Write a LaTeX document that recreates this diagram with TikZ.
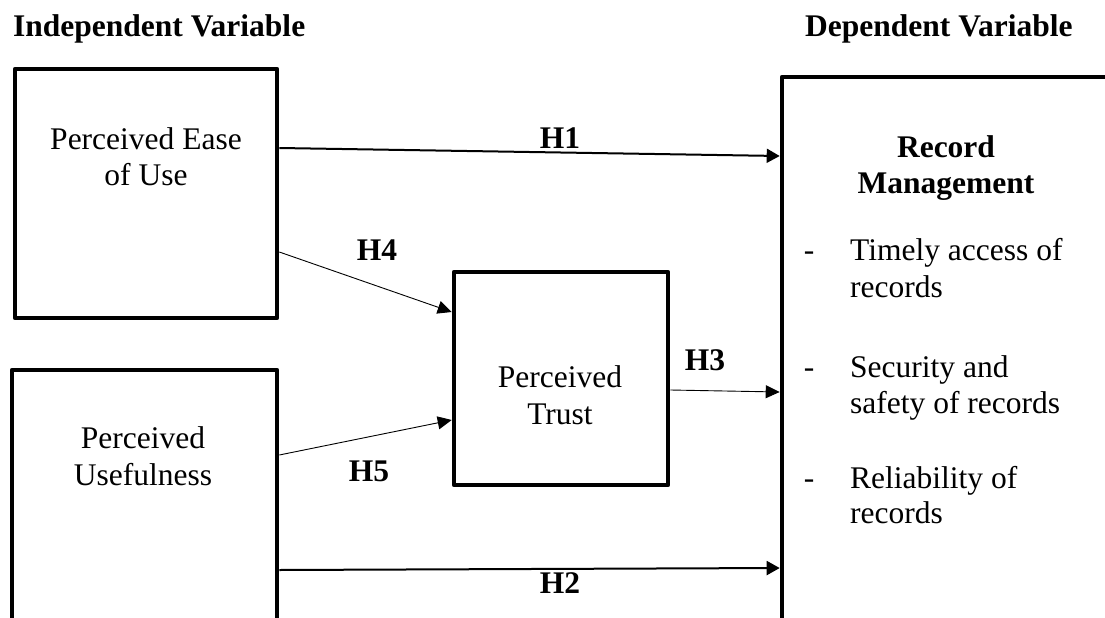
\documentclass[tikz,border=0pt]{standalone}
\usepackage{fontspec}
\setmainfont{Liberation Serif}
\usetikzlibrary{arrows.meta}
\tikzset{
  box/.style={draw, line width=4.6pt, line join=round, minimum width=#1},
  txt/.style={inner sep=0pt, anchor=base, font=\fontsize{31.5}{36.5}\selectfont},
  btxt/.style={inner sep=0pt, anchor=base, font=\fontsize{31.5}{36.5}\selectfont\bfseries},
  thickarr/.style={line width=2pt, -{Triangle[length=13pt,width=14pt]}},
  thinarr/.style={line width=0.9pt, -{Triangle[length=14pt,width=13pt]}},
}
\begin{document}
\begin{tikzpicture}[x=1pt,y=-1pt]
\useasboundingbox (0,0) rectangle (1105,618);
\clip (0,0) rectangle (1105,618);
% boxes
\node[box=262pt, minimum height=249pt] (peou) at (146,193.5) {};
\node[box=265pt, minimum height=290pt] (pu) at (144.5,515) {};
\node[box=214pt, minimum height=213pt] (pt) at (561,378.5) {};
\node[box=348pt, minimum height=583pt] (rm) at (956,368.5) {};
% headings
\node[btxt, anchor=base west] (ivh) at (13,37) {Independent Variable};
\node[btxt, anchor=base west] (dvh) at (805,37) {Dependent Variable};
% box texts
\node[txt] (t1a) at (146,149) {Perceived Ease};
\node[txt] (t1b) at (146,185) {of Use};
\node[txt] (t2a) at (143,448) {Perceived};
\node[txt] (t2b) at (143,485) {Usefulness};
\node[txt] (t3a) at (560,387) {Perceived};
\node[txt] (t3b) at (560,424) {Trust};
\node[btxt] (r1) at (946,157) {Record};
\node[btxt] (r2) at (946,193) {Management};
\node[txt] (d1) at (809,260) {-};
\node[txt, anchor=base west] (i1a) at (850,260) {Timely access of};
\node[txt, anchor=base west] (i1b) at (850,297) {records};
\node[txt] (d2) at (809,377) {-};
\node[txt, anchor=base west] (i2a) at (850,377) {Security and};
\node[txt, anchor=base west] (i2b) at (850,413) {safety of records};
\node[txt] (d3) at (809,488) {-};
\node[txt, anchor=base west] (i3a) at (850,488) {Reliability of};
\node[txt, anchor=base west] (i3b) at (850,523) {records};
% connector end points
\coordinate (h1s) at (peou.east |- 0,148);
\coordinate (h1e) at (rm.west |- 0,156);
\coordinate (h4s) at (peou.east |- 0,252);
\coordinate (h4e) at (pt.west |- 0,312);
\coordinate (h5s) at (pu.east |- 0,455);
\coordinate (h5e) at (pt.west |- 0,420);
\coordinate (h3s) at (pt.east |- 0,390);
\coordinate (h3e) at (rm.west |- 0,392);
\coordinate (h2s) at (pu.east |- 0,570);
\coordinate (h2e) at (rm.west |- 0,568);
\draw[thickarr] (h1s) -- (h1e);
\draw[thickarr] (h2s) -- (h2e);
\draw[thinarr] (h4s) -- (h4e);
\draw[thinarr] (h5s) -- (h5e);
\draw[thinarr] (h3s) -- (h3e);
% labels
\node[btxt] (lh1) at (560,148) {H1};
\node[btxt] (lh4) at (377,260) {H4};
\node[btxt] (lh5) at (369,481) {H5};
\node[btxt] (lh3) at (705,370) {H3};
\node[btxt] (lh2) at (560,593) {H2};
\end{tikzpicture}
\end{document}
